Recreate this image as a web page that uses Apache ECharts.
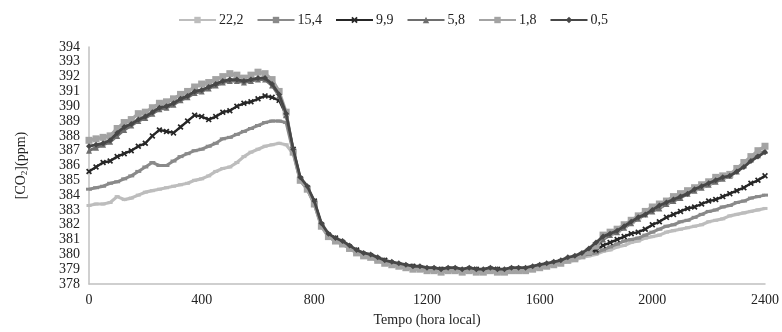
<!DOCTYPE html>
<html>
<head>
<meta charset="utf-8">
<script src="https://cdn.jsdelivr.net/npm/echarts@6/dist/echarts.min.js"></script>
<style>html,body{margin:0;padding:0;background:#fff}#c{width:782px;height:332px}</style>
</head>
<body>
<div id="c"></div>
<script>
const times = [0,25,50,75,100,125,150,175,200,225,250,275,300,325,350,375,400,425,450,475,500,525,550,575,600,625,650,675,700,725,750,775,800,825,850,875,900,925,950,975,1000,1025,1050,1075,1100,1125,1150,1175,1200,1225,1250,1275,1300,1325,1350,1375,1400,1425,1450,1475,1500,1525,1550,1575,1600,1625,1650,1675,1700,1725,1750,1775,1800,1825,1850,1875,1900,1925,1950,1975,2000,2025,2050,2075,2100,2125,2150,2175,2200,2225,2250,2275,2300,2325,2350,2375,2400];
const xTicks = [0,400,800,1200,1600,2000,2400];
const seriesNames = ['22,2','15,4','9,9','5,8','1,8','0,5'];

const s222 = [383.3,383.4,383.4,383.5,383.9,383.7,383.8,384.0,384.2,384.3,384.4,384.5,384.6,384.7,384.8,385.0,385.1,385.3,385.6,385.8,385.9,386.2,386.6,386.9,387.1,387.3,387.4,387.5,387.4,
 386.8,385.0,384.4,383.4,381.9,381.2,380.9,380.7,380.4,380.1,379.9,379.8,379.6,379.4,379.3,379.2,379.1,379.0,379.0,378.9,378.9,378.8,378.9,378.9,378.8,378.9,378.8,378.8,378.9,378.8,378.8,378.9,378.9,378.9,379.0,379.1,379.2,379.3,379.4,379.5,379.6,379.8,379.9,
 380.0,380.2,380.3,380.5,380.6,380.8,380.9,381.1,381.2,381.3,381.5,381.6,381.7,381.8,381.9,382.0,382.2,382.3,382.4,382.6,382.7,382.8,382.9,383.0,383.1];
const s154 = [384.4,384.5,384.6,384.8,384.9,385.1,385.3,385.6,385.9,386.2,386.0,386.0,386.3,386.6,386.8,387.0,387.1,387.3,387.5,387.8,387.9,388.1,388.3,388.5,388.7,388.9,389.0,389.0,388.9,
 386.9,385.0,384.4,383.4,382.0,381.2,380.9,380.7,380.4,380.2,379.9,379.8,379.6,379.5,379.3,379.2,379.1,379.1,379.0,378.9,378.9,378.9,378.9,378.9,378.8,378.9,378.9,378.8,378.9,378.9,378.8,378.9,378.9,379.0,379.1,379.1,379.2,379.3,379.5,379.6,379.7,379.9,380.0,
 380.1,380.3,380.5,380.7,380.9,381.0,381.1,381.3,381.5,381.7,381.9,382.0,382.2,382.3,382.5,382.7,382.9,383.0,383.2,383.3,383.5,383.6,383.8,383.9,384.0];
const s99 = [385.6,385.9,386.2,386.3,386.6,386.8,387.0,387.3,387.5,388.0,388.4,388.3,388.2,388.6,389.0,389.4,389.3,389.1,389.3,389.6,389.7,390.0,390.2,390.3,390.5,390.7,390.6,390.4,389.4,
 387.1,385.1,384.5,383.6,382.0,381.3,381.1,380.8,380.5,380.3,380.0,379.9,379.7,379.6,379.4,379.3,379.2,379.2,379.1,379.0,379.0,379.0,379.0,379.0,378.9,379.0,379.0,378.9,379.0,379.0,378.9,379.0,379.0,379.0,379.1,379.2,379.3,379.4,379.5,379.6,379.8,380.0,380.2,
 380.3,380.6,380.8,381.0,381.2,381.4,381.5,381.7,382.0,382.2,382.5,382.7,382.9,383.1,383.2,383.4,383.6,383.7,383.9,384.1,384.3,384.5,384.8,385.0,385.3];
const s58 = [387.0,387.2,387.4,387.6,388.0,388.4,388.7,389.0,389.2,389.5,389.8,389.9,390.1,390.4,390.6,390.9,391.0,391.2,391.4,391.6,391.7,391.7,391.6,391.7,391.8,391.8,391.4,390.7,389.4,
 387.0,385.1,384.5,383.5,382.0,381.3,381.0,380.8,380.5,380.2,380.0,379.9,379.7,379.5,379.4,379.3,379.2,379.1,379.1,379.0,379.0,378.9,379.0,379.0,378.9,379.0,378.9,378.9,379.0,378.9,378.9,379.0,379.0,379.0,379.1,379.2,379.3,379.4,379.5,379.7,379.8,380.0,380.3,
 380.5,381.0,381.3,381.5,381.8,382.1,382.4,382.7,382.9,383.1,383.4,383.6,383.8,384.1,384.3,384.5,384.7,384.9,385.1,385.3,385.6,386.0,386.4,386.7,387.0];
const s18 = [387.7,387.8,387.9,388.0,388.5,388.9,389.1,389.5,389.6,389.9,390.2,390.3,390.5,390.8,391.0,391.3,391.5,391.6,391.8,392.0,392.2,392.1,391.9,392.1,392.3,392.2,391.8,391.0,389.6,
 386.9,385.0,384.4,383.4,381.9,381.2,380.9,380.7,380.4,380.1,379.9,379.8,379.6,379.4,379.3,379.2,379.1,379.0,379.0,378.9,378.9,378.8,378.9,378.9,378.8,378.9,378.8,378.8,378.9,378.8,378.8,378.9,378.9,378.9,379.0,379.1,379.2,379.3,379.4,379.6,379.7,379.9,380.2,
 380.6,381.3,381.5,381.7,382.0,382.3,382.6,382.9,383.2,383.4,383.6,383.9,384.1,384.3,384.5,384.7,384.9,385.2,385.3,385.4,385.8,386.2,386.6,387.0,387.3];
const s05 = [387.3,387.4,387.5,387.7,388.2,388.6,388.8,389.1,389.3,389.6,389.9,390.0,390.2,390.5,390.7,391.0,391.1,391.3,391.5,391.7,391.8,391.8,391.7,391.8,391.9,391.9,391.5,390.8,389.5,
 387.1,385.2,384.6,383.6,382.1,381.4,381.1,380.9,380.6,380.3,380.1,380.0,379.8,379.6,379.5,379.4,379.3,379.2,379.2,379.1,379.1,379.0,379.1,379.1,379.0,379.1,379.0,379.0,379.1,379.0,379.0,379.1,379.1,379.1,379.2,379.3,379.4,379.5,379.6,379.8,379.9,380.1,380.4,
 380.8,381.2,381.4,381.6,381.9,382.2,382.5,382.7,383.0,383.3,383.5,383.7,383.9,384.1,384.4,384.6,384.8,385.0,385.2,385.3,385.6,385.9,386.3,386.6,386.9];

const values = [s222, s154, s99, s58, s18, s05];
const colors = ['#bdbdbd','#8a8a8a','#262626','#6e6e6e','#a3a3a3','#474747'];
const symbols = ['rect','rect','path://M0,2L2,0L5,3L8,0L10,2L7,5L10,8L8,10L5,7L2,10L0,8L3,5Z','triangle','rect','diamond'];
const symbolSizes = [[5,3],[6,3],6,6,7,6];
const widths = [3.2,3,2.4,3,3.2,2.8];

const FONT = 'Liberation Serif, Times New Roman, serif';
const chart = echarts.init(document.getElementById('c'), null, {renderer:'canvas'});
chart.setOption({
  animation:false,
  backgroundColor:'#fff',
  textStyle:{fontFamily:FONT},
  legend:{
    left:173, top:8, itemWidth:37, itemHeight:8, itemGap:13,
    textStyle:{fontFamily:FONT, fontSize:14, color:'#222', padding:[0,0,0,-2]},
    data:seriesNames
  },
  grid:{left:89, right:16, top:47, bottom:46},
  xAxis:{
    type:'value', min:0, max:2400, interval:400,
    name:'Tempo (hora local)', nameLocation:'middle', nameGap:29,
    nameTextStyle:{fontFamily:FONT, fontSize:14, color:'#222'},
    axisLine:{lineStyle:{color:'#c0c0c0', width:1.5}},
    axisTick:{show:false}, splitLine:{show:false},
    axisLabel:{fontFamily:FONT, fontSize:14, color:'#222', margin:9,
      formatter:function(v){return xTicks.indexOf(v)>=0 ? String(v) : '';}}
  },
  yAxis:{
    type:'value', min:378, max:394, interval:1,
    name:'[CO{sub|2}](ppm)', nameLocation:'middle', nameGap:60, nameRotate:90,
    nameTextStyle:{fontFamily:FONT, fontSize:14, color:'#222',
      rich:{sub:{fontFamily:FONT, fontSize:9, color:'#222', padding:[7,0,0,0]}}},
    axisLine:{show:true, lineStyle:{color:'#c0c0c0', width:1.5}},
    axisTick:{show:false}, splitLine:{show:false},
    axisLabel:{fontFamily:FONT, fontSize:14, color:'#222', margin:9}
  },
  series: seriesNames.map(function(n,i){
    return {
      name:n, type:'line', data: times.map(function(t,j){return [t, values[i][j]];}),
      symbol:symbols[i], symbolSize:symbolSizes[i], showSymbol:true,
      itemStyle:{color:colors[i]},
      lineStyle:{color:colors[i], width:widths[i]},
      z: 2+i
    };
  })
});
</script>
</body>
</html>
